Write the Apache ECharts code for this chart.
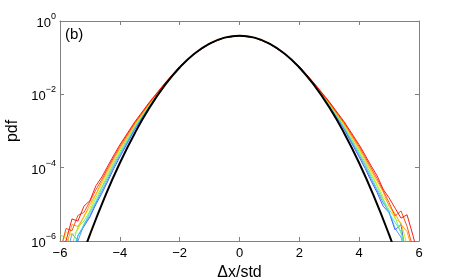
<!DOCTYPE html>
<html>
<head>
<meta charset="utf-8">
<script src="https://cdn.jsdelivr.net/npm/echarts/dist/echarts.min.js"></script>
<style>
html, body { margin: 0; padding: 0; background: #fff; }
#chart { width: 463px; height: 279px; }
</style>
</head>
<body>
<div id="chart"></div>
<script>
// x positions shared by the coloured curves
const xs = [-6, -5.8, -5.6, -5.4, -5.2, -5, -4.8, -4.6, -4.4, -4.2, -4, -3.5, -3, -2.5, -2, -1.5, -1, -0.5,
  0, 0.5, 1, 1.5, 2, 2.5, 3, 3.5, 4, 4.2, 4.4, 4.6, 4.8, 5, 5.2, 5.4, 5.6, 5.8, 6];

// coloured pdfs, red -> blue
const pdfRed = [7.9e-7, 1.0e-6, 4.0e-6, 3.5e-6, 8.9e-6, 1.26e-5, 3.2e-5, 5.6e-5,
  1.12e-4, 2.2e-4, 4.2e-4, 1.78e-3, 6.3e-3, 0.0200, 0.0575, 0.13, 0.242, 0.352,
  0.399, 0.352, 0.242, 0.13, 0.0575, 0.0200, 6.3e-3, 1.78e-3, 4.2e-4, 2.2e-4, 1.12e-4,
  6.0e-5, 2.6e-5, 1.5e-5, 7.9e-6, 4.2e-6, 5.2e-6, 1.4e-6, 3.2e-7];
const pdfRed2 = [5e-7, 2.2e-6, 1.9e-6, 5.0e-6, 6.0e-6, 1.2e-5, 2.5e-5, 4.8e-5,
  9.8e-5, 1.95e-4, 3.8e-4, 1.66e-3, 6.0e-3, 0.0195, 0.057, 0.13, 0.242, 0.352,
  0.399, 0.352, 0.242, 0.13, 0.057, 0.0195, 6.0e-3, 1.66e-3, 3.8e-4, 1.95e-4, 9.8e-5,
  5.0e-5, 2.4e-5, 1.12e-5, 4.8e-6, 6.6e-6, 2.5e-6, 6.3e-7, 1e-7];
const pdfOrange = [2e-7, 6.3e-7, 2.8e-6, 2.5e-6, 4.5e-6, 1.0e-5, 1.9e-5, 4.2e-5,
  8.5e-5, 1.75e-4, 3.4e-4, 1.55e-3, 5.8e-3, 0.0193, 0.0565, 0.13, 0.242, 0.352,
  0.399, 0.352, 0.242, 0.13, 0.0565, 0.0193, 5.8e-3, 1.55e-3, 3.4e-4, 1.75e-4, 8.5e-5,
  4.3e-5, 2.2e-5, 8.9e-6, 5.6e-6, 2.8e-6, 1.8e-6, 5e-7, 1e-7];
const pdfYellow = [5e-7, 1.8e-6, 1.4e-6, 2.0e-6, 5.0e-6, 7.9e-6, 1.8e-5, 3.6e-5,
  7.4e-5, 1.55e-4, 3.1e-4, 1.45e-3, 5.6e-3, 0.0191, 0.056, 0.13, 0.242, 0.352,
  0.399, 0.352, 0.242, 0.13, 0.056, 0.0191, 5.6e-3, 1.45e-3, 3.1e-4, 1.55e-4, 7.4e-5,
  3.5e-5, 1.66e-5, 1.0e-5, 4.0e-6, 3.2e-6, 7.9e-7, 1e-7, 1e-7];
const pdfGreen = [1.5e-6, 1.2e-6, 7.9e-7, 2.4e-6, 3.5e-6, 6.6e-6, 1.5e-5, 3.0e-5,
  6.5e-5, 1.38e-4, 2.75e-4, 1.35e-3, 5.45e-3, 0.0188, 0.0555, 0.13, 0.242, 0.352,
  0.399, 0.352, 0.242, 0.13, 0.0555, 0.0188, 5.45e-3, 1.35e-3, 2.75e-4, 1.38e-4, 6.5e-5,
  3.2e-5, 1.4e-5, 7.1e-6, 4.5e-6, 1.6e-6, 6.3e-7, 1e-7, 1e-7];
const pdfCyan = [1e-7, 1e-7, 5e-7, 1.4e-6, 2.8e-6, 6.0e-6, 1.2e-5, 2.75e-5,
  5.6e-5, 1.23e-4, 2.45e-4, 1.26e-3, 5.25e-3, 0.0186, 0.055, 0.13, 0.242, 0.352,
  0.399, 0.352, 0.242, 0.13, 0.055, 0.0186, 5.25e-3, 1.26e-3, 2.45e-4, 1.23e-4, 5.6e-5,
  2.6e-5, 1.3e-5, 5.6e-6, 3.2e-6, 1.8e-6, 3.2e-7, 1e-7, 1e-7];
const pdfSky = [1e-7, 3.2e-7, 1.6e-6, 1.0e-6, 2.8e-6, 5.0e-6, 1.1e-5, 2.3e-5,
  4.9e-5, 1.10e-4, 2.2e-4, 1.17e-3, 5.05e-3, 0.0184, 0.0548, 0.13, 0.242, 0.352,
  0.399, 0.352, 0.242, 0.13, 0.0548, 0.0184, 5.05e-3, 1.17e-3, 2.2e-4, 1.10e-4, 4.9e-5,
  2.4e-5, 1.1e-5, 6.3e-6, 2.2e-6, 1.26e-6, 3.2e-7, 1e-7, 1e-7];
const pdfBlue = [1e-7, 1e-7, 3.2e-7, 1.4e-6, 2.5e-6, 4.5e-6, 1.0e-5, 2.0e-5,
  4.3e-5, 9.5e-5, 1.95e-4, 1.10e-3, 4.9e-3, 0.0182, 0.0545, 0.13, 0.242, 0.352,
  0.399, 0.352, 0.242, 0.13, 0.0545, 0.0182, 4.9e-3, 1.10e-3, 1.95e-4, 9.5e-5, 4.3e-5,
  2.1e-5, 8.9e-6, 6.0e-6, 2.0e-6, 2.8e-6, 2.5e-7, 1e-7, 1e-7];

// black reference curve
const gaussX = [-5.5, -5, -4.5, -4, -3.5, -3, -2.5, -2, -1.5, -1, -0.5, 0,
  0.5, 1, 1.5, 2, 2.5, 3, 3.5, 4, 4.5, 5, 5.5];
const gaussPdf = [1.08e-7, 1.49e-6, 1.60e-5, 1.34e-4, 8.73e-4, 4.43e-3, 1.75e-2, 5.40e-2, 0.1295, 0.242, 0.352, 0.399,
  0.352, 0.242, 0.1295, 5.40e-2, 1.75e-2, 4.43e-3, 8.73e-4, 1.34e-4, 1.60e-5, 1.49e-6, 1.08e-7];

const xTicks = [-6, -4, -2, 0, 2, 4, 6];

const colourLines = [
  { data: pdfBlue, color: '#3050ff' },
  { data: pdfSky, color: '#4a8cff' },
  { data: pdfCyan, color: '#30e0e0' },
  { data: pdfGreen, color: '#70f040' },
  { data: pdfYellow, color: '#e8e000' },
  { data: pdfOrange, color: '#ff9a00' },
  { data: pdfRed2, color: '#ff3c00' },
  { data: pdfRed, color: '#ff0000' }
];

const font = 'Liberation Sans, Arial, sans-serif';
const minus = v => (v < 0 ? '\u2212' + (-v) : '' + v);

const chart = echarts.init(document.getElementById('chart'), null, { renderer: 'canvas' });

const series = colourLines.map(l => ({
  type: 'line',
  data: xs.map((x, i) => [x, l.data[i]]),
  showSymbol: false,
  clip: true,
  silent: true,
  lineStyle: { color: l.color, width: 0.9 }
}));
series.push({
  type: 'line',
  data: gaussX.map((x, i) => [x, gaussPdf[i]]),
  showSymbol: false,
  smooth: true,
  clip: true,
  z: 5,
  lineStyle: { color: '#000', width: 2 }
});

const frameLine = { onZero: false, lineStyle: { color: '#808080', width: 1 } };
const frameTick = { inside: true, length: 4, lineStyle: { color: '#808080' } };

const option = {
  animation: false,
  grid: { left: 60, right: 44, top: 21, bottom: 38, outerBoundsMode: 'none' },
  graphic: [{
    type: 'text', left: 65, top: 27,
    style: { text: '(b)', font: '15px ' + font, fill: '#000' }
  }],
  xAxis: [{
    type: 'value', min: -6, max: 6, interval: 2,
    name: '\u0394x/std', nameLocation: 'middle', nameGap: 20,
    nameTextStyle: { fontSize: 16, fontFamily: font, color: '#000' },
    axisLine: frameLine, axisTick: frameTick, splitLine: { show: false },
    axisLabel: { fontSize: 13, fontFamily: font, color: '#000', margin: 6,
      formatter: v => xTicks.includes(v) ? minus(v) : '' }
  }, {
    type: 'value', min: -6, max: 6, interval: 2, position: 'top',
    axisLine: frameLine, axisTick: frameTick, splitLine: { show: false },
    axisLabel: { show: false }
  }],
  yAxis: [{
    type: 'log', logBase: 10, min: 1e-6, max: 1, interval: 2,
    name: 'pdf', nameLocation: 'middle', nameGap: 35,
    nameTextStyle: { fontSize: 16, fontFamily: font, color: '#000' },
    axisLine: frameLine, axisTick: frameTick, splitLine: { show: false },
    axisLabel: {
      margin: 4,
      formatter: v => '{b|10}{s|' + minus(Math.round(Math.log10(v))) + '}',
      rich: {
        b: { fontSize: 13, fontFamily: font, color: '#000', lineHeight: 18, verticalAlign: 'bottom' },
        s: { fontSize: 9, fontFamily: font, color: '#000', lineHeight: 18, verticalAlign: 'top' }
      }
    }
  }, {
    type: 'log', logBase: 10, min: 1e-6, max: 1, interval: 2, position: 'right',
    axisLine: frameLine, axisTick: frameTick, splitLine: { show: false },
    axisLabel: { show: false }
  }],
  series: series
};

chart.setOption(option);
</script>
</body>
</html>
